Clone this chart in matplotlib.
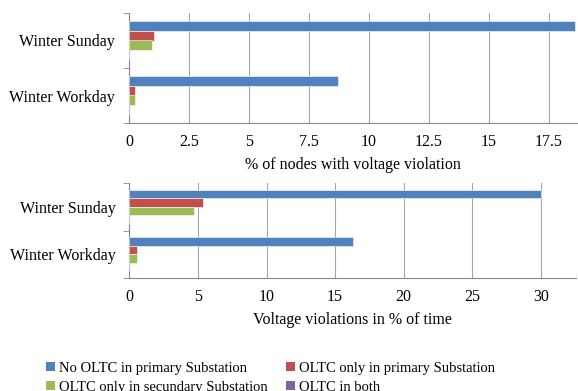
import matplotlib
matplotlib.use("Agg")
import matplotlib.pyplot as plt
import numpy as np
from matplotlib.patches import Patch

plt.rcParams['font.family'] = ['Liberation Serif', 'DejaVu Serif']

categories = ["Winter Workday", "Winter Sunday"]
series = ["No OLTC in primary Substation", "OLTC only in primary Substation",
          "OLTC only in secundary Substation", "OLTC in both"]
colors = ["#4F81BD", "#C0504D", "#9BBB59", "#8064A2"]

# % of nodes with voltage violation (Workday, Sunday)
nodes_no_oltc = [8.7, 18.6]
nodes_primary = [0.24, 1.04]
nodes_secondary = [0.24, 0.96]
nodes_both = [0.0, 0.0]

# voltage violations in % of time (Workday, Sunday)
time_no_oltc = [16.3, 30.0]
time_primary = [0.56, 5.35]
time_secondary = [0.56, 4.75]
time_both = [0.0, 0.0]

nodes_ticks = [0, 2.5, 5, 7.5, 10, 12.5, 15, 17.5]
nodes_ticklabels = ["0", "2.5", "5", "7.5", "10", "12.5", "15", "17.5"]
time_ticks = [0, 5, 10, 15, 20, 25, 30]

W, H = 578, 391
fig = plt.figure(figsize=(W / 100, H / 100), dpi=100)
FS = 11.5


def fx(px):
    return px / W


def fy(py):
    return 1 - py / H


ax1 = fig.add_axes([fx(129), fy(123), fx(577 - 129), fy(13) - fy(123)])
ax2 = fig.add_axes([fx(129.3), fy(278), fx(576 - 129.3), fy(183) - fy(278)])


def draw(ax, data, xmax, ticks, ticklabels, xlabel):
    y = np.arange(len(categories))
    bh = 0.18
    offsets = [1.5, 0.5, -0.5, -1.5]
    for vals, col, off in zip(data, colors, offsets):
        ax.barh(y + off * bh, vals, height=bh, color=col, edgecolor="white",
                linewidth=0.4, zorder=3)
    ax.set_xlim(0, xmax)
    ax.set_ylim(-0.5, 1.5)
    ax.set_yticks(y)
    ax.set_yticklabels(categories, fontsize=FS)
    ax.set_yticks([-0.5, 0.5, 1.5], minor=True)
    ax.tick_params(axis='y', which='major', length=0, pad=10)
    ax.tick_params(axis='y', which='minor', length=4, color="#888888")
    ax.set_xticks(ticks)
    ax.set_xticklabels(ticklabels, fontsize=FS)
    ax.tick_params(axis='x', length=0, pad=8)
    ax.grid(axis='x', color="#a6a6a6", linewidth=0.8, zorder=0)
    ax.set_axisbelow(True)
    for s in ("top", "right"):
        ax.spines[s].set_visible(False)
    for s in ("left", "bottom"):
        ax.spines[s].set_color("#888888")
        ax.spines[s].set_linewidth(0.8)
    ax.set_xlabel(xlabel, fontsize=FS, labelpad=5)


draw(ax1, [nodes_no_oltc, nodes_primary, nodes_secondary, nodes_both],
     (577 - 129) / 24.0, nodes_ticks, nodes_ticklabels,
     "% of nodes with voltage violation")
draw(ax2, [time_no_oltc, time_primary, time_secondary, time_both],
     (576 - 129.3) / 13.72, time_ticks, [str(t) for t in time_ticks],
     "Voltage violations in % of time")

handles = [Patch(facecolor=c, edgecolor="none") for c in colors]
order = [0, 2, 1, 3]
fig.legend([handles[i] for i in order], [series[i] for i in order],
           ncol=2, loc="upper left", bbox_to_anchor=(fx(46), fy(362)),
           frameon=False, fontsize=10.5, handlelength=0.6, handleheight=0.6,
           handletextpad=0.3, columnspacing=1.25, labelspacing=0.4,
           borderpad=0, borderaxespad=0)

fig.savefig("out.png", dpi=100)
